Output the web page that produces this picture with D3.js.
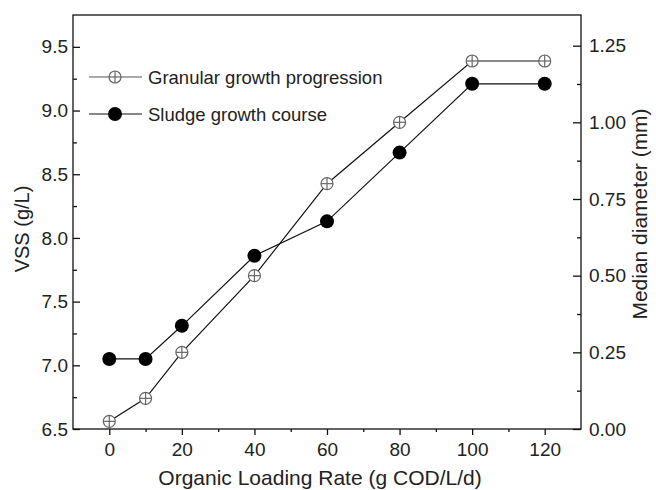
<!DOCTYPE html>
<html>
<head>
<meta charset="utf-8">
<script src="https://cdn.jsdelivr.net/npm/d3@7"></script>
<style>
  body { margin: 0; background: #fff; }
  text { font-family: "Liberation Sans", Arial, sans-serif; fill: #222; }
</style>
</head>
<body>
<div id="chart"></div>
<script>
// Data
var olr = [0, 10, 20, 40, 60, 80, 100, 120];
var granular = [0.025, 0.1, 0.25, 0.5, 0.8, 1.0, 1.2, 1.2];   // median diameter (mm), right axis
var sludge = [7.05, 7.05, 7.31, 7.86, 8.13, 8.67, 9.21, 9.21]; // VSS (g/L), left axis
var xTicks = [0, 20, 40, 60, 80, 100, 120];
var yLeftTicks = [6.5, 7.0, 7.5, 8.0, 8.5, 9.0, 9.5];
var yRightTicks = [0, 0.25, 0.5, 0.75, 1.0, 1.25];
var legendLabels = ["Granular growth progression", "Sludge growth course"];

var width = 656, height = 490;
var margin = {left: 73, top: 15, right: 75, bottom: 61};
var w = width - margin.left - margin.right,
    h = height - margin.top - margin.bottom;

var svg = d3.select("#chart").append("svg")
    .attr("width", width).attr("height", height);
var g = svg.append("g")
    .attr("transform", "translate(" + margin.left + "," + margin.top + ")");

var x = d3.scaleLinear().domain([-10, 130]).range([0, w]);
var yL = d3.scaleLinear().domain([6.5, 9.75]).range([h, 0]);
var yR = d3.scaleLinear().domain([0, 1.35]).range([h, 0]);

// frame
g.append("rect").attr("width", w).attr("height", h)
  .attr("fill", "none").attr("stroke", "#111").attr("stroke-width", 1.3);

// minor ticks (x outward, y inward)
g.append("g").attr("transform", "translate(0," + h + ")")
  .call(d3.axisBottom(x).tickValues([10, 30, 50, 70, 90, 110]).tickSize(3).tickFormat(""));
g.append("g")
  .call(d3.axisLeft(yL).tickValues([6.75, 7.25, 7.75, 8.25, 8.75, 9.25]).tickSize(-4).tickFormat(""));
g.append("g").attr("transform", "translate(" + w + ",0)")
  .call(d3.axisRight(yR).tickValues([0.125, 0.375, 0.625, 0.875, 1.125]).tickSize(-4).tickFormat(""));

// major axes
g.append("g").attr("transform", "translate(0," + h + ")")
  .call(d3.axisBottom(x).tickValues(xTicks).tickSize(6).tickPadding(8));
g.append("g")
  .call(d3.axisLeft(yL).tickValues(yLeftTicks).tickSize(-7).tickPadding(5).tickFormat(d3.format(".1f")));
g.append("g").attr("transform", "translate(" + w + ",0)")
  .call(d3.axisRight(yR).tickValues(yRightTicks).tickSize(-8).tickPadding(8).tickFormat(d3.format(".2f")));

g.selectAll(".domain").remove();
g.selectAll(".tick line").attr("stroke", "#111").attr("stroke-width", 1.3);
g.selectAll(".tick text").attr("font-size", 19).attr("fill", "#222")
  .attr("font-family", "Liberation Sans, Arial, sans-serif");

// axis titles
svg.append("text")
  .attr("x", 320).attr("y", 485)
  .attr("text-anchor", "middle").attr("font-size", 21)
  .text("Organic Loading Rate (g COD/L/d)");
svg.append("text")
  .attr("transform", "translate(29," + (margin.top + h / 2 + 7) + ") rotate(-90)")
  .attr("text-anchor", "middle").attr("font-size", 20)
  .text("VSS (g/L)");
svg.append("text")
  .attr("transform", "translate(647," + (margin.top + h / 2 - 8) + ") rotate(-90)")
  .attr("text-anchor", "middle").attr("font-size", 21)
  .text("Median diameter (mm)");

var lineG = d3.line().x(function(d, i) { return x(olr[i]); }).y(function(d) { return yR(d); });
var lineS = d3.line().x(function(d, i) { return x(olr[i]); }).y(function(d) { return yL(d); });

g.append("path").datum(granular).attr("d", lineG)
  .attr("fill", "none").attr("stroke", "#111").attr("stroke-width", 1.2);
g.append("path").datum(sludge).attr("d", lineS)
  .attr("fill", "none").attr("stroke", "#111").attr("stroke-width", 1.2);

// markers
function crossCircle(sel, cx, cy) {
  var m = sel.append("g").attr("transform", "translate(" + cx + "," + cy + ")");
  m.append("circle").attr("r", 6).attr("fill", "#fff").attr("stroke", "#666").attr("stroke-width", 1.2);
  m.append("line").attr("x1", -6).attr("x2", 6).attr("stroke", "#666").attr("stroke-width", 1.2);
  m.append("line").attr("y1", -6).attr("y2", 6).attr("stroke", "#666").attr("stroke-width", 1.2);
}
granular.forEach(function(d, i) { crossCircle(g, x(olr[i]), yR(d)); });
g.selectAll(".dot").data(sludge).enter().append("circle")
  .attr("class", "dot")
  .attr("cx", function(d, i) { return x(olr[i]); })
  .attr("cy", function(d) { return yL(d); })
  .attr("r", 7).attr("fill", "#000");

// legend
var legend = svg.append("g");
legendLabels.forEach(function(lab, i) {
  var ly = 77 + i * 37;
  legend.append("line").attr("x1", 89).attr("x2", 142).attr("y1", ly).attr("y2", ly)
    .attr("stroke", i === 0 ? "#555" : "#111").attr("stroke-width", 1.2);
  if (i === 0) crossCircle(legend, 115, ly);
  else legend.append("circle").attr("cx", 115).attr("cy", ly).attr("r", 7).attr("fill", "#000");
  legend.append("text").attr("x", 148).attr("y", ly + 7)
    .attr("font-size", 18.5).text(lab);
});
</script>
</body>
</html>
